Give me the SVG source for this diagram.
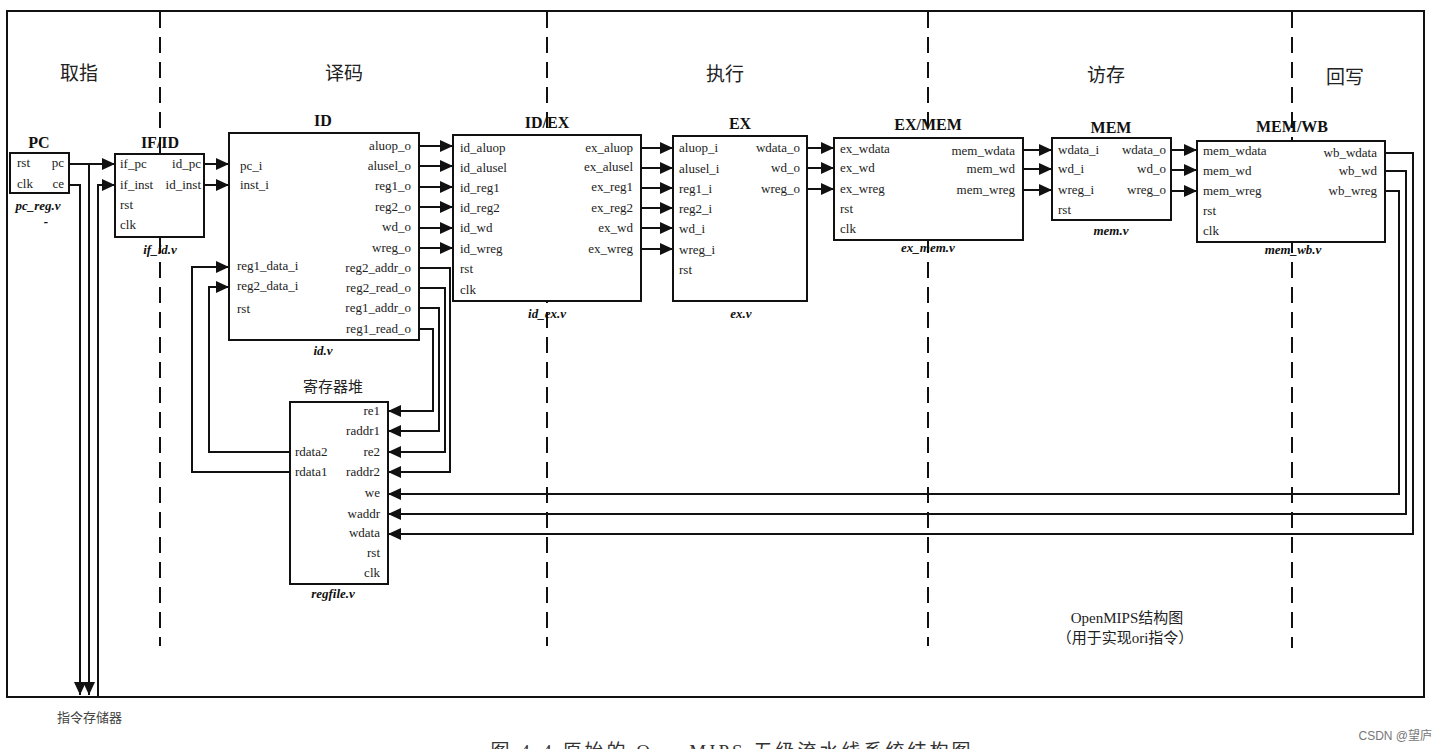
<svg xmlns="http://www.w3.org/2000/svg" width="1447" height="749" viewBox="0 0 1447 749">
<defs>
<marker id="ah" markerUnits="userSpaceOnUse" markerWidth="14" markerHeight="12" refX="13" refY="6" orient="auto">
<path d="M0,0 L13,6 L0,12 z" fill="#111"/>
</marker>
<style>
.box{fill:#fff;stroke:#111;stroke-width:2}
.w{fill:none;stroke:#111;stroke-width:2}
.a{fill:none;stroke:#111;stroke-width:2;marker-end:url(#ah)}
.dash{stroke:#111;stroke-width:2;stroke-dasharray:16 9}
.lb{font-family:"Liberation Serif",serif;font-size:13px;fill:#222}
.r{text-anchor:end}
.t{font-family:"Liberation Serif",serif;font-size:16px;font-weight:bold;fill:#111;text-anchor:middle}
.f{font-family:"Liberation Serif",serif;font-size:13px;font-weight:bold;font-style:italic;fill:#111;text-anchor:middle}
.st{font-family:"Noto Sans CJK SC",sans-serif;font-size:19px;fill:#222;text-anchor:middle}
.cn{font-family:"Liberation Serif","Noto Sans CJK SC",serif;font-size:15px;fill:#222;text-anchor:middle}
</style>
</defs>
<rect x="0" y="0" width="1447" height="749" fill="#fff"/>
<rect x="7" y="11" width="1417" height="686" fill="none" stroke="#111" stroke-width="2"/>
<g id="stages">
<line class="dash" x1="160" y1="12" x2="160" y2="646"/>
<line class="dash" x1="547" y1="12" x2="547" y2="646"/>
<line class="dash" x1="928" y1="12" x2="928" y2="646"/>
<line class="dash" x1="1292" y1="12" x2="1292" y2="648"/>
<text class="st" x="79" y="80">取指</text>
<text class="st" x="344" y="80">译码</text>
<text class="st" x="725" y="81">执行</text>
<text class="st" x="1106" y="82">访存</text>
<text class="st" x="1345" y="84">回写</text>
</g>
<g id="connectors">
<line class="a" x1="69" y1="164" x2="115" y2="164"/>
<path class="a" d="M89,164 V695"/>
<path class="a" d="M69,185 H80 V695"/>
<path class="a" d="M98,697 V185 H115"/>
<line class="a" x1="204" y1="164" x2="229" y2="164"/>
<line class="a" x1="204" y1="185" x2="229" y2="185"/>
<line class="a" x1="419" y1="146" x2="453" y2="146"/>
<line class="a" x1="419" y1="166" x2="453" y2="166"/>
<line class="a" x1="419" y1="187" x2="453" y2="187"/>
<line class="a" x1="419" y1="207" x2="453" y2="207"/>
<line class="a" x1="419" y1="228" x2="453" y2="228"/>
<line class="a" x1="419" y1="248" x2="453" y2="248"/>
<line class="a" x1="641" y1="148" x2="673" y2="148"/>
<line class="a" x1="641" y1="168" x2="673" y2="168"/>
<line class="a" x1="641" y1="188" x2="673" y2="188"/>
<line class="a" x1="641" y1="208" x2="673" y2="208"/>
<line class="a" x1="641" y1="228" x2="673" y2="228"/>
<line class="a" x1="641" y1="249" x2="673" y2="249"/>
<line class="a" x1="807" y1="148" x2="834" y2="148"/>
<line class="a" x1="807" y1="168" x2="834" y2="168"/>
<line class="a" x1="807" y1="189" x2="834" y2="189"/>
<line class="a" x1="1023" y1="150" x2="1052" y2="150"/>
<line class="a" x1="1023" y1="169" x2="1052" y2="169"/>
<line class="a" x1="1023" y1="190" x2="1052" y2="190"/>
<line class="a" x1="1171" y1="150" x2="1197" y2="150"/>
<line class="a" x1="1171" y1="170" x2="1197" y2="170"/>
<line class="a" x1="1171" y1="191" x2="1197" y2="191"/>
<path class="a" d="M1385,153 H1413 V534 H388"/>
<path class="a" d="M1385,171 H1406 V514 H388"/>
<path class="a" d="M1385,191 H1399 V494 H388"/>
<path class="a" d="M419,268 H450 V472 H388"/>
<path class="a" d="M419,288 H445 V452 H388"/>
<path class="a" d="M419,308 H439 V431 H388"/>
<path class="a" d="M419,329 H433 V411 H388"/>
<path class="a" d="M290,452 H209 V287 H229"/>
<path class="a" d="M290,472 H192 V267 H229"/>
</g>
<g id="pc">
<rect class="box" x="10" y="153" width="59" height="40"/>
<text class="t" x="39" y="148">PC</text>
<text class="lb" x="17" y="167">rst</text>
<text class="lb r" x="64" y="167">pc</text>
<text class="lb" x="17" y="188">clk</text>
<text class="lb r" x="64" y="188">ce</text>
<text class="f" x="38" y="210">pc_reg.v</text>
<text class="f" x="46" y="226">-</text>
</g>
<g id="ifid">
<rect class="box" x="115" y="154" width="89" height="83"/>
<text class="t" x="160" y="148">IF/ID</text>
<text class="lb" x="120" y="168">if_pc</text>
<text class="lb r" x="201" y="168">id_pc</text>
<text class="lb" x="120" y="189">if_inst</text>
<text class="lb r" x="201" y="189">id_inst</text>
<text class="lb" x="120" y="209">rst</text>
<text class="lb" x="120" y="229">clk</text>
<text class="f" x="160" y="254">if_id.v</text>
</g>
<g id="id">
<rect class="box" x="229" y="133" width="190" height="207"/>
<text class="t" x="323" y="126">ID</text>
<text class="lb" x="240" y="170">pc_i</text>
<text class="lb" x="240" y="189">inst_i</text>
<text class="lb" x="237" y="270">reg1_data_i</text>
<text class="lb" x="237" y="290">reg2_data_i</text>
<text class="lb" x="237" y="313">rst</text>
<text class="lb r" x="411" y="150">aluop_o</text>
<text class="lb r" x="411" y="170">alusel_o</text>
<text class="lb r" x="411" y="190">reg1_o</text>
<text class="lb r" x="411" y="211">reg2_o</text>
<text class="lb r" x="411" y="231">wd_o</text>
<text class="lb r" x="411" y="252">wreg_o</text>
<text class="lb r" x="411" y="272">reg2_addr_o</text>
<text class="lb r" x="411" y="292">reg2_read_o</text>
<text class="lb r" x="411" y="312">reg1_addr_o</text>
<text class="lb r" x="411" y="333">reg1_read_o</text>
<text class="f" x="323" y="355">id.v</text>
</g>
<g id="idex">
<rect class="box" x="453" y="135" width="188" height="166"/>
<text class="t" x="547" y="128">ID/EX</text>
<text class="lb" x="460" y="152">id_aluop</text>
<text class="lb" x="460" y="172">id_alusel</text>
<text class="lb" x="460" y="192">id_reg1</text>
<text class="lb" x="460" y="212">id_reg2</text>
<text class="lb" x="460" y="232">id_wd</text>
<text class="lb" x="460" y="253">id_wreg</text>
<text class="lb" x="460" y="273">rst</text>
<text class="lb" x="460" y="294">clk</text>
<text class="lb r" x="633" y="152">ex_aluop</text>
<text class="lb r" x="633" y="171">ex_alusel</text>
<text class="lb r" x="633" y="191">ex_reg1</text>
<text class="lb r" x="633" y="212">ex_reg2</text>
<text class="lb r" x="633" y="232">ex_wd</text>
<text class="lb r" x="633" y="253">ex_wreg</text>
<text class="f" x="547" y="318">id_ex.v</text>
</g>
<g id="ex">
<rect class="box" x="673" y="136" width="134" height="165"/>
<text class="t" x="740" y="129">EX</text>
<text class="lb" x="679" y="152">aluop_i</text>
<text class="lb" x="679" y="173">alusel_i</text>
<text class="lb" x="679" y="193">reg1_i</text>
<text class="lb" x="679" y="213">reg2_i</text>
<text class="lb" x="679" y="233">wd_i</text>
<text class="lb" x="679" y="254">wreg_i</text>
<text class="lb" x="679" y="274">rst</text>
<text class="lb r" x="800" y="152">wdata_o</text>
<text class="lb r" x="800" y="172">wd_o</text>
<text class="lb r" x="800" y="193">wreg_o</text>
<text class="f" x="741" y="318">ex.v</text>
</g>
<g id="exmem">
<rect class="box" x="834" y="138" width="189" height="102"/>
<text class="t" x="928" y="130">EX/MEM</text>
<text class="lb" x="840" y="153">ex_wdata</text>
<text class="lb" x="840" y="172">ex_wd</text>
<text class="lb" x="840" y="193">ex_wreg</text>
<text class="lb" x="840" y="213">rst</text>
<text class="lb" x="840" y="233">clk</text>
<text class="lb r" x="1015" y="155">mem_wdata</text>
<text class="lb r" x="1015" y="173">mem_wd</text>
<text class="lb r" x="1015" y="194">mem_wreg</text>
<text class="f" x="928" y="252">ex_mem.v</text>
</g>
<g id="mem">
<rect class="box" x="1052" y="138" width="119" height="82"/>
<text class="t" x="1111" y="133">MEM</text>
<text class="lb" x="1058" y="154">wdata_i</text>
<text class="lb" x="1058" y="173">wd_i</text>
<text class="lb" x="1058" y="194">wreg_i</text>
<text class="lb" x="1058" y="214">rst</text>
<text class="lb r" x="1166" y="154">wdata_o</text>
<text class="lb r" x="1166" y="173">wd_o</text>
<text class="lb r" x="1166" y="194">wreg_o</text>
<text class="f" x="1111" y="235">mem.v</text>
</g>
<g id="memwb">
<rect class="box" x="1197" y="141" width="188" height="101"/>
<text class="t" x="1292" y="132">MEM/WB</text>
<text class="lb" x="1203" y="155">mem_wdata</text>
<text class="lb" x="1203" y="175">mem_wd</text>
<text class="lb" x="1203" y="195">mem_wreg</text>
<text class="lb" x="1203" y="215">rst</text>
<text class="lb" x="1203" y="235">clk</text>
<text class="lb r" x="1377" y="157">wb_wdata</text>
<text class="lb r" x="1377" y="175">wb_wd</text>
<text class="lb r" x="1377" y="195">wb_wreg</text>
<text class="f" x="1293" y="254">mem_wb.v</text>
</g>
<g id="regfile">
<rect class="box" x="290" y="402" width="98" height="182"/>
<text class="cn" x="333" y="392">寄存器堆</text>
<text class="lb r" x="380" y="415">re1</text>
<text class="lb r" x="380" y="435">raddr1</text>
<text class="lb r" x="380" y="456">re2</text>
<text class="lb r" x="380" y="476">raddr2</text>
<text class="lb r" x="380" y="497">we</text>
<text class="lb r" x="380" y="518">waddr</text>
<text class="lb r" x="380" y="537">wdata</text>
<text class="lb r" x="380" y="557">rst</text>
<text class="lb r" x="380" y="577">clk</text>
<text class="lb" x="295" y="456">rdata2</text>
<text class="lb" x="295" y="476">rdata1</text>
<text class="f" x="333" y="598">regfile.v</text>
</g>
<g id="notes">
<text class="cn" x="1127" y="623">OpenMIPS结构图</text>
<text class="cn" x="1125" y="643">（用于实现ori指令）</text>
<text x="57" y="722" font-family="Noto Sans CJK SC,sans-serif" font-size="13" fill="#444">指令存储器</text>
<text x="1432" y="740" text-anchor="end" font-family="Liberation Sans,Noto Sans CJK SC,sans-serif" font-size="12" fill="#777">CSDN @望庐</text>
<text x="732" y="758" text-anchor="middle" font-family="Liberation Serif,Noto Sans CJK SC,serif" font-size="19" letter-spacing="3" fill="#333">图 4-4   原始的 OpenMIPS 五级流水线系统结构图</text>
</g>
</svg>
